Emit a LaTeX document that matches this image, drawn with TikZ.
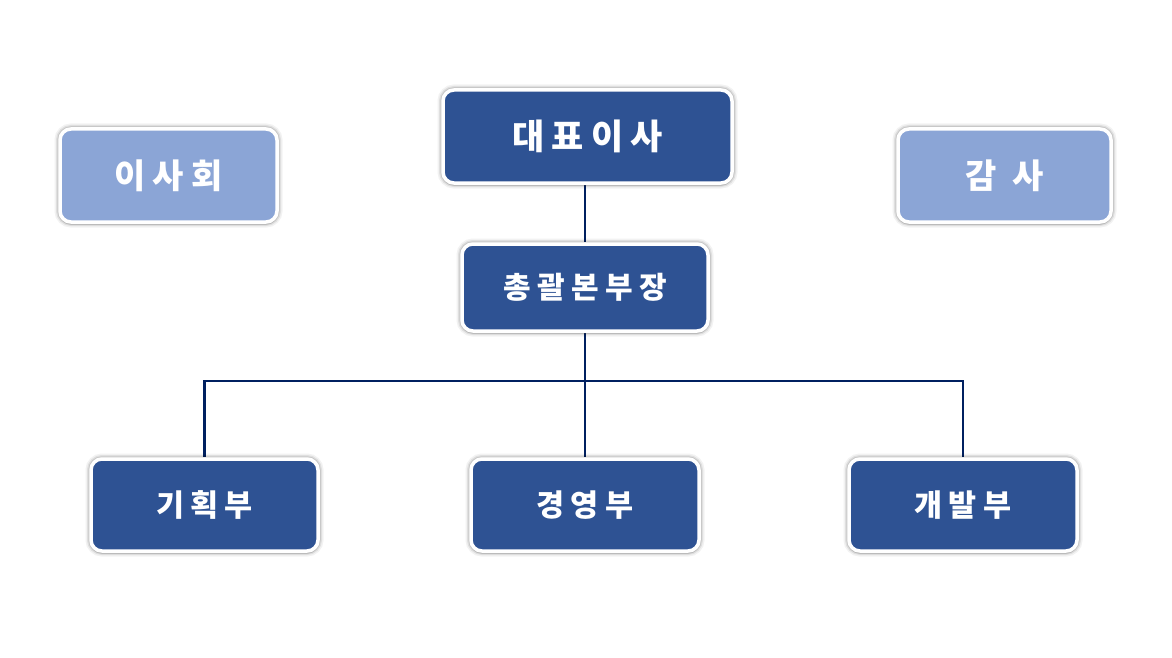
\documentclass[tikz,border=0pt]{standalone}
\usepackage{fontspec}
\newfontfamily\kr{Noto Sans CJK KR}
\usetikzlibrary{shadows,backgrounds}
\definecolor{darkbox}{HTML}{2E5293}
\definecolor{darktop}{HTML}{3460A8}
\definecolor{darkbot}{HTML}{213E72}
\definecolor{lightbox}{HTML}{8BA5D6}
\definecolor{lighttop}{HTML}{9AB3E2}
\definecolor{lightbot}{HTML}{6F89BC}
\definecolor{navyline}{HTML}{002060}
\pgfdeclareverticalshading{darkshade}{100bp}{color(0bp)=(darkbot); color(6bp)=(darkbox); color(93bp)=(darkbox); color(100bp)=(darktop)}
\pgfdeclareverticalshading{lightshade}{100bp}{color(0bp)=(lightbot); color(6bp)=(lightbox); color(93bp)=(lightbox); color(100bp)=(lighttop)}
\newcommand\kg[1]{\hspace{#1}}
\tikzset{
  orgbox/.style={rounded corners=11pt, draw=white, line width=3.5pt,
    shading=darkshade,
    text=white,
    preaction={draw=black, draw opacity=0.05, line width=11pt},
    preaction={draw=black, draw opacity=0.08, line width=8pt},
    preaction={draw=black, draw opacity=0.10, line width=5.5pt},
    drop shadow={opacity=0.18, shadow xshift=0pt, shadow yshift=-3pt, shadow scale=1.0},
    inner sep=0pt, align=center},
  lightorg/.style={orgbox, shading=lightshade},
  link/.style={draw=navyline, line width=2.6pt}
}
\begin{document}
\begin{tikzpicture}[x=1pt,y=-1pt]
\useasboundingbox (0,0) rectangle (1172,658);
\node[orgbox, minimum width=289pt, minimum height=93pt, font=\kr\bfseries\fontsize{35}{38}\selectfont] (ceo) at (587.5,136.5) {대\kg{7pt}표\kg{7pt}이\kg{7pt}사};
\node[orgbox, minimum width=246pt, minimum height=87pt, font=\kr\bfseries\fontsize{30}{34}\selectfont] (gm) at (585,287.5) {총\kg{6.5pt}괄\kg{6.5pt}본\kg{6.5pt}부\kg{6.5pt}장};
\node[lightorg, minimum width=217pt, minimum height=93pt, font=\kr\bfseries\fontsize{34}{38}\selectfont] (board) at (168.5,175.5) {이\kg{7pt}사\kg{7pt}회};
\node[lightorg, minimum width=213pt, minimum height=93pt, font=\kr\bfseries\fontsize{34}{38}\selectfont] (audit) at (1004.5,175.5) {감\kg{16pt}사};
\node[orgbox, minimum width=227pt, minimum height=92pt, font=\kr\bfseries\fontsize{30.5}{34}\selectfont] (plan) at (204.5,505) {기\kg{6pt}획\kg{6pt}부};
\node[orgbox, minimum width=228pt, minimum height=92pt, font=\kr\bfseries\fontsize{30.5}{34}\selectfont] (mgmt) at (585,505) {경\kg{6pt}영\kg{6pt}부};
\node[orgbox, minimum width=228pt, minimum height=92pt, font=\kr\bfseries\fontsize{30.5}{34}\selectfont] (dev) at (963,505) {개\kg{6pt}발\kg{6pt}부};
\coordinate (bus) at (585,381);
\begin{scope}[on background layer]
\draw[link] (gm.north) -- (gm.north |- ceo.south);
\draw[link] (gm.south) -- (mgmt.north);
\draw[link] (plan.north) |- (bus) -| (dev.north);
\end{scope}
\end{tikzpicture}
\end{document}
